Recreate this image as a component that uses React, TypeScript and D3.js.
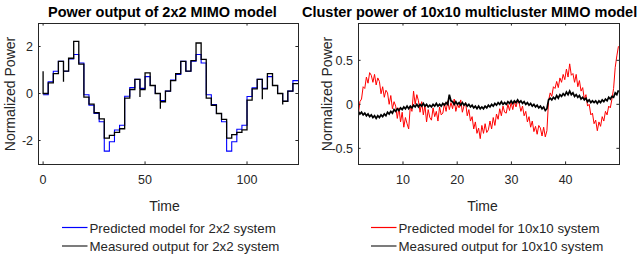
import React from 'react';
import * as d3 from 'd3';

// left panel: 2x2 system, one value per 2.5 s step
const predicted2x2 = [
  -0.05, 0.5, 0.95, 1.37, 0.95, 1.47, 1.66, 1.3, -0.05, -0.5,
  -0.85, -1.2, -2.45, -2.05, -1.55, -1.35, -0.12, 0.25, 0.6, 0.22,
  0.72, 0.34, 0.0, -0.3, 0.1, 0.57, 0.81, 1.37, 0.95, 1.37,
  1.66, 1.3, -0.05, -0.47, -0.85, -1.2, -2.45, -2.05, -1.52, -1.35,
  -0.13, 0.24, 0.6, 0.22, 0.72, 0.34, 0.0, -0.33, 0.1, 0.55,
];
const measured2x2 = [
  0.0, 0.45, 0.85, 1.37, 0.95, 1.5, 2.22, 1.25, -0.15, -0.45,
  -0.82, -1.08, -1.9, -1.78, -1.65, -1.5, -0.2, 0.17, 0.6, 0.17,
  0.88, 0.34, 0.0, -0.35, 0.1, 0.55, 0.85, 1.37, 0.95, 1.4,
  2.15, 1.45, -0.2, -0.5, -0.85, -1.1, -1.9, -1.75, -1.65, -1.55,
  -0.28, 0.2, 0.6, 0.2, 0.85, 0.34, 0.0, -0.33, 0.1, 0.42,
];
// short transients of the measured output at some step changes
const spikeSteps = [0, 4, 19, 23, 43, 47];
const spikeValues = [0.95, 0.5, -0.15, -0.65, -0.24, -0.47];
const stepTimes = d3.range(0, 125, 2.5);
const endTime2x2 = 125;

// right panel: 10x10 system, sampled every 0.3 s from 1.75
const predicted10x10 = [
  -0.12, 0.03, 0.06, 0.2, 0.18, 0.31, 0.24, 0.36, 0.33, 0.25,
  0.34, 0.22, 0.3, 0.26, 0.12, 0.2, 0.08, 0.16, 0.13, 0.0,
  0.1, -0.05, 0.03, -0.02, -0.16, -0.04, -0.2, -0.09, -0.26, -0.15,
  -0.22, -0.28, -0.02, -0.08, 0.15, 0.0, 0.11, 0.04, -0.09, 0.03,
  -0.12, -0.01, -0.2, -0.06, -0.15, -0.18, -0.04, -0.14, -0.08, -0.19,
  -0.03, -0.12, -0.1, 0.01, -0.08, 0.04, -0.06, 0.02, -0.05, 0.06,
  -0.08, 0.0, -0.04, 0.05, -0.09, -0.02, 0.02, -0.13, -0.06, -0.19,
  -0.14, -0.28, -0.2, -0.33, -0.27, -0.39, -0.24, -0.33, -0.22, -0.32,
  -0.29, -0.19, -0.28, -0.15, -0.24, -0.11, -0.17, -0.05, -0.13, -0.02,
  -0.09, -0.1, 0.0, -0.07, 0.02, -0.06, 0.03, -0.03, 0.04, 0.01,
  -0.08, -0.02, -0.13, -0.08, -0.2, -0.14, -0.26, -0.19, -0.31, -0.25,
  -0.34, -0.24, -0.27, -0.36, -0.26, -0.37, -0.3, 0.04, 0.13, 0.09,
  0.2, 0.18, 0.26, 0.19, 0.3, 0.25, 0.34, 0.28, 0.4, 0.31,
  0.46, 0.33, 0.35, 0.25, 0.34, 0.2, 0.27, 0.15, 0.19, 0.06,
  0.11, -0.02, 0.0, -0.12, -0.1, -0.22, -0.18, -0.3, -0.2, -0.25,
  -0.14, -0.19, -0.08, -0.12, -0.02, -0.04, 0.06, 0.18, 0.42, 0.55,
  0.66,
];
const measured10x10 = [
  -0.08, -0.11, -0.09, -0.12, -0.1, -0.13, -0.11, -0.14, -0.12, -0.15,
  -0.13, -0.16, -0.13, -0.15, -0.12, -0.14, -0.11, -0.13, -0.09, -0.11,
  -0.08, -0.1, -0.06, -0.08, -0.05, -0.07, -0.04, -0.06, -0.03, -0.05,
  -0.02, -0.05, -0.02, -0.04, -0.01, -0.03, 0.0, -0.03, 0.0, -0.02,
  0.01, -0.02, 0.0, -0.03, -0.01, -0.03, 0.0, -0.02, 0.01, -0.02,
  0.0, -0.02, 0.01, -0.01, 0.02, 0.0, 0.11, 0.04, 0.03, 0.0,
  0.03, 0.0, 0.02, -0.01, 0.02, -0.01, 0.01, -0.02, 0.0, -0.03,
  -0.01, -0.04, -0.02, -0.05, -0.02, -0.05, -0.03, -0.05, -0.02, -0.04,
  -0.01, -0.03, 0.0, -0.02, 0.01, -0.01, 0.02, 0.0, 0.03, 0.0,
  0.02, 0.0, 0.03, 0.01, 0.04, 0.01, 0.04, 0.02, 0.05, 0.02,
  0.04, 0.01, 0.03, 0.0, 0.02, -0.01, 0.01, -0.02, 0.0, -0.03,
  -0.01, -0.04, -0.02, -0.05, -0.03, -0.07, -0.05, 0.05, 0.07, 0.05,
  0.08, 0.06, 0.1, 0.07, 0.11, 0.09, 0.12, 0.1, 0.14, 0.11,
  0.15, 0.11, 0.13, 0.09, 0.11, 0.08, 0.1, 0.06, 0.08, 0.05,
  0.07, 0.03, 0.05, 0.02, 0.04, 0.02, 0.04, 0.01, 0.04, 0.02,
  0.05, 0.03, 0.06, 0.04, 0.08, 0.06, 0.09, 0.08, 0.13, 0.11,
  0.16,
];
const sampleTimes = predicted10x10.map((_, i) => 1.75 + 0.3 * i);

const xTicksLeft = [0, 50, 100];
const yTicksLeft = [-2, 0, 2];
const xTicksRight = [10, 20, 30, 40];
const yTicksRight = [-0.5, 0, 0.5];

const font = "'Liberation Sans', Arial, Helvetica, sans-serif";
const axisColor = '#262626';
const tickLen = 2.6;

const stairs = (values: number[], spikes: Map<number, number>) => {
  const pts: [number, number][] = [];
  values.forEach((v, k) => {
    const t = stepTimes[k];
    if (k > 0) pts.push([t, values[k - 1]]);
    if (spikes.has(k)) pts.push([t, spikes.get(k) as number]);
    pts.push([t, v]);
  });
  pts.push([endTime2x2, values[values.length - 1]]);
  return pts;
};

const Axes = ({ x, y, xTicks, yTicks }: any) => {
  const [x0, x1] = x.range();
  const [y1, y0] = y.range();
  return (
    <g>
      <rect x={x0} y={y0} width={x1 - x0} height={y1 - y0} fill="none" stroke={axisColor} strokeWidth={1} shapeRendering="crispEdges" />
      {xTicks.map((t: number) => (
        <g key={'x' + t}>
          <line x1={x(t)} x2={x(t)} y1={y1} y2={y1 - tickLen} stroke={axisColor} />
          <line x1={x(t)} x2={x(t)} y1={y0} y2={y0 + tickLen} stroke={axisColor} />
          <text x={x(t)} y={184} textAnchor="middle" fontSize={12.5} fill={axisColor} fontFamily={font}>
            {t}
          </text>
        </g>
      ))}
      {yTicks.map((t: number) => (
        <g key={'y' + t}>
          <line x1={x0} x2={x0 + tickLen} y1={y(t)} y2={y(t)} stroke={axisColor} />
          <line x1={x1} x2={x1 - tickLen} y1={y(t)} y2={y(t)} stroke={axisColor} />
          <text x={x0 - 5} y={y(t) + 4.5} textAnchor="end" fontSize={12.5} fill={axisColor} fontFamily={font}>
            {t}
          </text>
        </g>
      ))}
    </g>
  );
};

const Legend = ({ x, items }: any) => (
  <g fontFamily={font} fontSize={13.3}>
    {items.map((it: any, i: number) => (
      <g key={it.label}>
        <line x1={x} x2={x + 25.5} y1={227.5 + i * 18.5} y2={227.5 + i * 18.5} style={{ stroke: it.color, strokeWidth: 1.2 }} />
        <text x={x + 27.5} y={232.5 + i * 18.5} fill={axisColor}>{it.label}</text>
      </g>
    ))}
  </g>
);

const App = () => {
  const xL = d3.scaleLinear([-2.5, 125], [38, 298]);
  const yL = d3.scaleLinear([-3, 3], [164, 23]);
  const xR = d3.scaleLinear([1.7, 49.85], [358, 619]);
  const yR = d3.scaleLinear([-0.678, 0.924], [164, 23]);

  const lineL = d3.line<[number, number]>().x((d) => xL(d[0])).y((d) => yL(d[1]));
  const lineR = d3.line<number>().x((_, i) => xR(sampleTimes[i])).y((d) => yR(d));

  const spikes = new Map<number, number>(spikeSteps.map((k, i) => [k, spikeValues[i]]));
  const bluePath = lineL(stairs(predicted2x2, new Map())) || undefined;
  const blackPath = lineL(stairs(measured2x2, spikes)) || undefined;

  return (
    <svg width={642} height={258} style={{ position: 'absolute', left: 0, top: 0, background: '#fff' }}>
      <defs>
        <clipPath id="clipL"><rect x={38} y={23} width={260} height={141} /></clipPath>
        <clipPath id="clipR"><rect x={358} y={23} width={261} height={141} /></clipPath>
      </defs>

      {/* left panel */}
      <g clipPath="url(#clipL)">
        <path d={bluePath} fill="none" stroke="#0000ff" strokeWidth={1.1} />
        <path d={blackPath} fill="none" stroke="#000" strokeWidth={1.3} />
      </g>
      <Axes x={xL} y={yL} xTicks={xTicksLeft} yTicks={yTicksLeft} />
      <text x={48} y={17} fontSize={14.5} fontWeight="bold" fill="#000" fontFamily={font}>
        Power output of 2x2 MIMO model
      </text>
      <text x={164.5} y={211} textAnchor="middle" fontSize={14} fill={axisColor} fontFamily={font}>Time</text>
      <text transform="translate(15, 94) rotate(-90)" textAnchor="middle" fontSize={14} fill={axisColor} fontFamily={font}>
        Normalized Power
      </text>
      <Legend
        x={62}
        items={[
          { label: 'Predicted model for 2x2 system', color: '#0000ff' },
          { label: 'Measured output for 2x2 system', color: '#262626' },
        ]}
      />

      {/* right panel */}
      <g clipPath="url(#clipR)">
        <path d={lineR(predicted10x10) || undefined} fill="none" stroke="#ff0000" strokeWidth={1} />
        <path d={lineR(measured10x10) || undefined} fill="none" stroke="#000" strokeWidth={1.7} />
      </g>
      <Axes x={xR} y={yR} xTicks={xTicksRight} yTicks={yTicksRight} />
      <text x={302} y={17} fontSize={14.5} fontWeight="bold" fill="#000" fontFamily={font}>
        Cluster power of 10x10 multicluster MIMO model
      </text>
      <text x={482.5} y={211} textAnchor="middle" fontSize={14} fill={axisColor} fontFamily={font}>Time</text>
      <text transform="translate(332, 94) rotate(-90)" textAnchor="middle" fontSize={14} fill={axisColor} fontFamily={font}>
        Normalized Power
      </text>
      <Legend
        x={371}
        items={[
          { label: 'Predicted model for 10x10 system', color: '#ff0000' },
          { label: 'Measured output for 10x10 system', color: '#262626' },
        ]}
      />
    </svg>
  );
};

export default App;
